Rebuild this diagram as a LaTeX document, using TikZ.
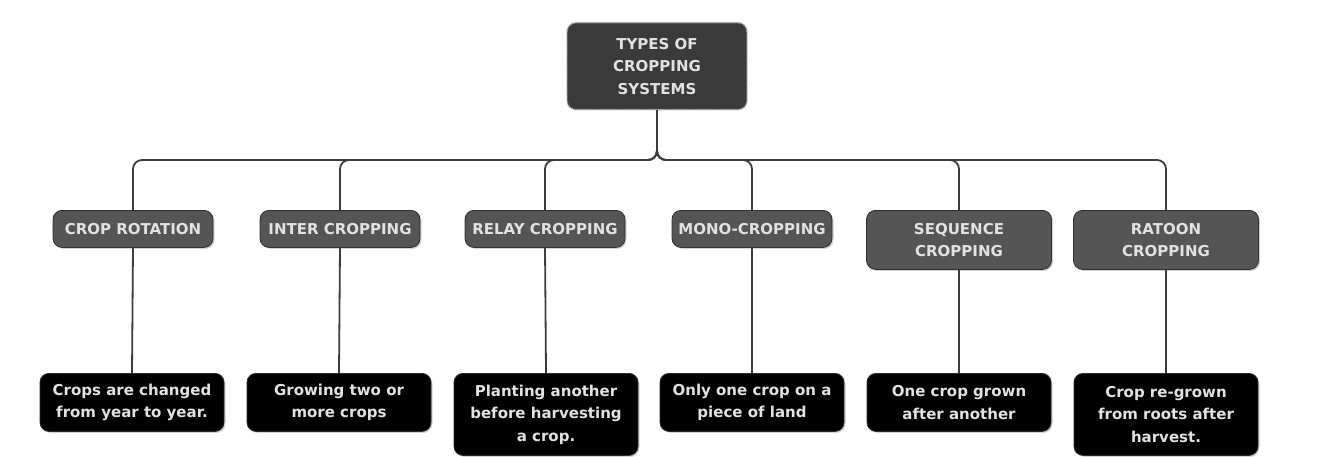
\documentclass[tikz,border=0pt]{standalone}
\usepackage{fontspec}
\setmainfont{DejaVu Sans}
\usetikzlibrary{shadows}
\definecolor{rootgrey}{HTML}{3A3A3A}
\definecolor{typegrey}{HTML}{555555}
\definecolor{typeedge}{HTML}{303030}
\definecolor{noteedge}{HTML}{2A2A2A}
\definecolor{boxtext}{HTML}{E2E2E2}
\definecolor{linegrey}{HTML}{3C3C3C}
\tikzset{
  box/.style = {rounded corners=9pt, align=center, text=boxtext, inner sep=0pt,
                font=\bfseries\fontsize{15}{22.5}\selectfont},
  rootbox/.style = {box, fill=rootgrey, draw=gray!65, densely dotted, line width=1.4pt,
                    minimum width=180pt, minimum height=87pt},
  typebox/.style = {box, fill=typegrey, draw=typeedge, line width=0.8pt,
                    minimum width=160pt, minimum height=37pt,
                    drop shadow={shadow xshift=1.5pt, shadow yshift=-1.5pt, opacity=.35}},
  widebox/.style = {typebox, minimum width=185pt, minimum height=59pt},
  notebox/.style = {box, fill=black, draw=noteedge, line width=0.8pt,
                    minimum width=184pt, minimum height=58pt,
                    drop shadow={shadow xshift=1.5pt, shadow yshift=-1.5pt, opacity=.35}},
  tallbox/.style = {notebox, minimum height=82pt},
  link/.style = {draw=linegrey, line width=1.8pt, rounded corners=9pt}
}

\begin{document}
\begin{tikzpicture}[x=1pt, y=-1pt]
    \useasboundingbox (0,0) rectangle (1324,457);
    \coordinate (bus) at (0,160);

    % root
    \node[rootbox, anchor=north] (root) at (657,22) {TYPES OF\\CROPPING\\SYSTEMS};

    % types
    \node[typebox, anchor=north] (rotation) at (133,210) {CROP ROTATION};
    \node[typebox, anchor=north] (inter) at (340,210) {INTER CROPPING};
    \node[typebox, anchor=north] (relay) at (545,210) {RELAY CROPPING};
    \node[typebox, anchor=north] (mono) at (752,210) {MONO-CROPPING};
    \node[widebox, anchor=north] (sequence) at (959,210) {SEQUENCE\\CROPPING};
    \node[widebox, anchor=north] (ratoon) at (1166,210) {RATOON\\CROPPING};

    % meanings
    \node[notebox, anchor=north] (rotationtxt) at (132,373) {Crops are changed\\from year to year.};
    \node[notebox, anchor=north] (intertxt) at (339,373) {Growing two or\\more crops};
    \node[tallbox, anchor=north] (relaytxt) at (546,373) {Planting another\\before harvesting\\a crop.};
    \node[notebox, anchor=north] (monotxt) at (752,373) {Only one crop on a\\piece of land};
    \node[notebox, anchor=north] (sequencetxt) at (959,373) {One crop grown\\after another};
    \node[tallbox, anchor=north] (ratoontxt) at (1166,373) {Crop re-grown\\from roots after\\harvest.};

    % bus
    \draw[link] (root.south) -- (root.south |- bus) -- (rotation.north |- bus) -- (rotation.north);
    \draw[link] (root.south) -- (root.south |- bus) -- (inter.north |- bus) -- (inter.north);
    \draw[link] (root.south) -- (root.south |- bus) -- (relay.north |- bus) -- (relay.north);
    \draw[link] (root.south) -- (root.south |- bus) -- (mono.north |- bus) -- (mono.north);
    \draw[link] (root.south) -- (root.south |- bus) -- (sequence.north |- bus) -- (sequence.north);
    \draw[link] (root.south) -- (root.south |- bus) -- (ratoon.north |- bus) -- (ratoon.north);

    % down to the meanings
    \draw[link] (rotation.south) -- (rotationtxt.north);
    \draw[link] (inter.south) -- (intertxt.north);
    \draw[link] (relay.south) -- (relaytxt.north);
    \draw[link] (mono.south) -- (monotxt.north);
    \draw[link] (sequence.south) -- (sequencetxt.north);
    \draw[link] (ratoon.south) -- (ratoontxt.north);
\end{tikzpicture}
\end{document}
